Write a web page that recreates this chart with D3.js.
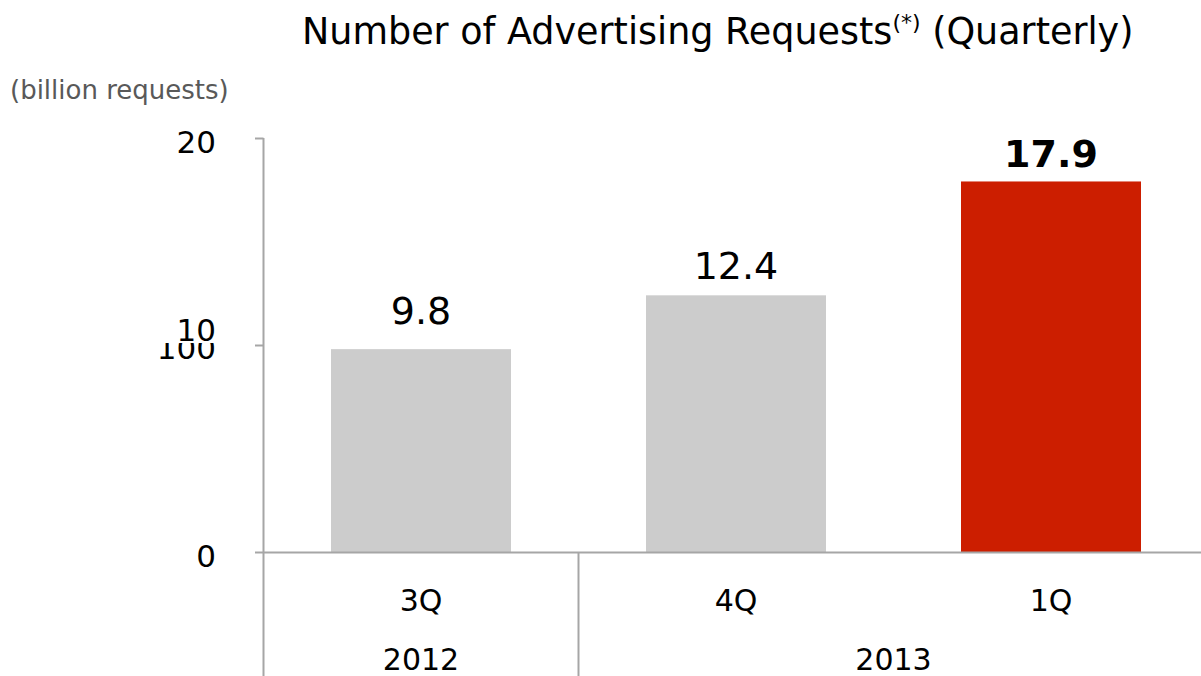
<!DOCTYPE html>
<html>
<head>
<meta charset="utf-8">
<script src="https://cdn.jsdelivr.net/npm/d3@7"></script>
<style>
  html, body { margin: 0; padding: 0; background: #fff; }
  svg { display: block; font-family: "DejaVu Sans", Verdana, sans-serif; }
</style>
</head>
<body>
<svg id="chart" width="1201" height="676"></svg>
<script>
// Quarterly advertising requests, in billions
const quarters = ["3Q", "4Q", "1Q"];
const years = [
  { label: "2012", from: 0, to: 0 },
  { label: "2013", from: 1, to: 2 }
];
const requests = [9.8, 12.4, 17.9];
const highlight = [false, false, true];
const yTicks = [0, 10, 20];
const staleTickLabel = "100";

// Gap between each bar top and its value label baseline
const labelLift = [25, 16, 14];

const svg = d3.select("#chart");

const x = d3.scaleBand()
  .domain(quarters)
  .range([263.5, 1208.5])
  .paddingInner(0.4286)
  .paddingOuter(0.2143);

const y = d3.scaleLinear().domain([0, 20]).range([552, 138]);

const axisColor = "#a6a6a6";

// Bars
svg.selectAll("rect.bar")
  .data(requests)
  .join("rect")
  .attr("class", "bar")
  .attr("x", (d, i) => x(quarters[i]))
  .attr("width", x.bandwidth())
  .attr("y", d => y(d))
  .attr("height", d => y(0) - y(d))
  .attr("fill", (d, i) => highlight[i] ? "#cc1e00" : "#cccccc");

// Value labels
svg.selectAll("text.value")
  .data(requests)
  .join("text")
  .attr("class", "value")
  .attr("x", (d, i) => x(quarters[i]) + x.bandwidth() / 2)
  .attr("y", (d, i) => y(d) - labelLift[i])
  .attr("text-anchor", "middle")
  .attr("font-size", 38)
  .attr("font-weight", (d, i) => highlight[i] ? "bold" : "normal")
  .attr("fill", "#000")
  .text(d => d.toFixed(1));

// Y axis line
svg.append("line")
  .attr("x1", 263.5).attr("x2", 263.5)
  .attr("y1", y(20)).attr("y2", 676)
  .attr("stroke", axisColor).attr("stroke-width", 2);

// Tick marks
svg.selectAll("line.tick")
  .data(yTicks)
  .join("line")
  .attr("class", "tick")
  .attr("x1", 255).attr("x2", 263.5)
  .attr("y1", d => y(d) + 0.5).attr("y2", d => y(d) + 0.5)
  .attr("stroke", axisColor).attr("stroke-width", 2);

// Baseline
svg.append("line")
  .attr("x1", 263.5).attr("x2", 1201)
  .attr("y1", y(0) + 0.5).attr("y2", y(0) + 0.5)
  .attr("stroke", axisColor).attr("stroke-width", 2);

// Leftover tick label, mostly covered, peeking out under "10"
svg.append("clipPath").attr("id", "staleClip")
  .append("rect").attr("x", 140).attr("y", y(10) - 2).attr("width", 120).attr("height", 40);
svg.append("text")
  .attr("x", 216).attr("y", y(10) + 14)
  .attr("text-anchor", "end")
  .attr("font-size", 31)
  .attr("fill", "#000")
  .attr("clip-path", "url(#staleClip)")
  .text(staleTickLabel);

// Tick labels
svg.selectAll("text.ytick")
  .data(yTicks)
  .join("text")
  .attr("class", "ytick")
  .attr("x", 216)
  .attr("y", d => y(d) + (d === 10 ? -4 : 15))
  .attr("text-anchor", "end")
  .attr("font-size", 31)
  .attr("fill", "#000")
  .text(d => d);

// Year separator
const step = x.step();
svg.append("line")
  .attr("x1", 263.5 + step).attr("x2", 263.5 + step)
  .attr("y1", y(0)).attr("y2", 676)
  .attr("stroke", axisColor).attr("stroke-width", 2);

// Quarter labels
svg.selectAll("text.quarter")
  .data(quarters)
  .join("text")
  .attr("class", "quarter")
  .attr("x", d => x(d) + x.bandwidth() / 2)
  .attr("y", 611)
  .attr("text-anchor", "middle")
  .attr("font-size", 30)
  .attr("fill", "#000")
  .text(d => d);

// Year labels
svg.selectAll("text.year")
  .data(years)
  .join("text")
  .attr("class", "year")
  .attr("x", d => (x(quarters[d.from]) + x(quarters[d.to]) + x.bandwidth()) / 2)
  .attr("y", 670)
  .attr("text-anchor", "middle")
  .attr("font-size", 30)
  .attr("fill", "#000")
  .text(d => d.label);

// Unit label
svg.append("text")
  .attr("x", 10).attr("y", 99)
  .attr("font-size", 26)
  .attr("fill", "#595959")
  .text("(billion requests)");

// Title
const title = svg.append("text")
  .attr("x", 302).attr("y", 44)
  .attr("font-size", 36.5)
  .attr("fill", "#000");
title.append("tspan").text("Number of Advertising Requests");
title.append("tspan").attr("font-size", 22).attr("dy", -14).text("(*)");
title.append("tspan").attr("dy", 14).text(" (Quarterly)");
</script>
</body>
</html>
